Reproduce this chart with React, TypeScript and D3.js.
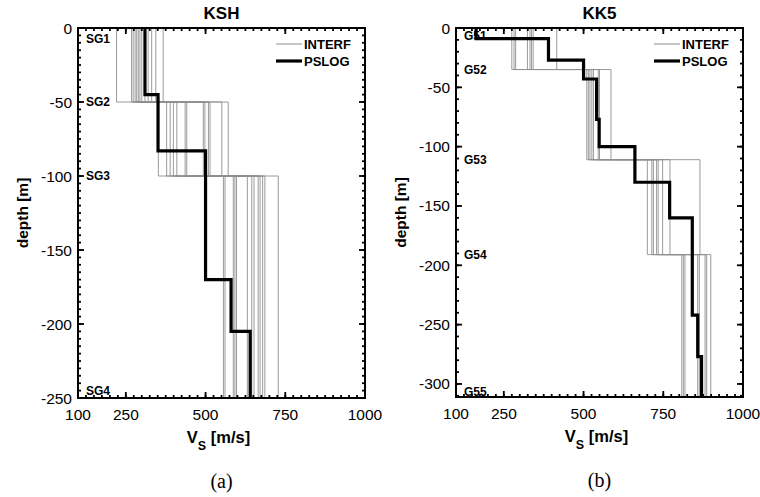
import React from "react";
import * as d3 from "d3";

// ---------- data ----------
const xTickLabels = [100, 250, 500, 750, 1000];

// KSH (a)
const kshLayerDepths = [0, -50, -100, -250];
const kshInterfL1 = [221, 268, 273, 279, 284, 289, 294, 300, 310, 320, 331, 344, 367];
const kshInterfL2 = [352, 378, 389, 399, 410, 436, 441, 493, 498, 509, 514, 551, 571];
const kshInterfL3 = [556, 561, 587, 592, 597, 631, 645, 652, 665, 671, 679, 686, 728];
const kshPslogDepths = [0, -45, -83, -170, -205, -250];
const kshPslogV = [310, 351, 500, 580, 640];
const kshLabels = ["SG1", "SG2", "SG3", "SG4"];
const kshLabelDepths = [-7.5, -50, -100, -245];
const kshYTicks = [0, -50, -100, -150, -200, -250];

// KK5 (b)
const kk5LayerDepths = [0, -35, -111, -191, -311];
const kk5InterfL1 = [275, 282, 287, 324, 332, 337, 342, 416];
const kk5InterfL2 = [510, 515, 520, 526, 531, 546, 550, 586];
const kk5InterfL3 = [700, 714, 719, 729, 734, 748, 771, 865];
const kk5InterfL4 = [808, 813, 818, 858, 863, 881, 886, 899];
const kk5PslogDepths = [0, -9, -27, -43, -77, -100, -130, -160, -242, -277, -311];
const kk5PslogV = [163, 390, 500, 541, 549, 661, 770, 841, 858, 870];
const kk5Labels = ["G51", "G52", "G53", "G54", "G55"];
const kk5LabelDepths = [-7, -35, -111, -191, -307];
const kk5YTicks = [0, -50, -100, -150, -200, -250, -300];

const SANS = "'Liberation Sans', Arial, Helvetica, sans-serif";
const SERIF = "'Liberation Serif', 'Times New Roman', serif";

function stepPoints(vs: number[], depths: number[]): [number, number][] {
  const pts: [number, number][] = [];
  vs.forEach((v, i) => {
    pts.push([v, depths[i]]);
    pts.push([v, depths[i + 1]]);
  });
  return pts;
}

type PanelProps = {
  left: number;
  right: number;
  top: number;
  bottom: number;
  yMin: number;
  title: string;
  layerDepths: number[];
  interf: number[][];
  pslogDepths: number[];
  pslogV: number[];
  labels: string[];
  labelDepths: number[];
  yTicks: number[];
  yMinorStep: number;
  caption: string;
};

function Panel(p: PanelProps) {
  const x = d3.scaleLinear().domain([100, 1000]).range([p.left, p.right]);
  const y = d3.scaleLinear().domain([p.yMin, 0]).range([p.bottom, p.top]);
  const line = d3
    .line<[number, number]>()
    .x((d) => x(d[0]))
    .y((d) => y(d[1]));

  const nProf = p.interf[0].length;
  const profiles = d3.range(nProf).map((i) =>
    stepPoints(
      p.interf.map((layer) => layer[i]),
      p.layerDepths
    )
  );

  const xMinor = d3.range(125, 1000, 25);
  const xMajor = [250, 500, 750];
  const yMinor = d3.range(0, p.yMin, -p.yMinorStep);
  const cx = (p.left + p.right) / 2;
  const majLen = 6;
  const minLen = 3;

  return (
    <g>
      {profiles.map((pts, i) => (
        <path key={"i" + i} d={line(pts) || ""} fill="none" stroke="#8e8e8e" strokeWidth={0.9} />
      ))}
      <path
        d={line(stepPoints(p.pslogV, p.pslogDepths)) || ""}
        fill="none"
        stroke="#000"
        strokeWidth={3.2}
        strokeLinejoin="miter"
      />
      <rect
        x={p.left}
        y={p.top}
        width={p.right - p.left}
        height={p.bottom - p.top}
        fill="none"
        stroke="#000"
        strokeWidth={2}
      />
      {xMinor.map((v) => (
        <g key={"xm" + v}>
          <line x1={x(v)} x2={x(v)} y1={p.bottom} y2={p.bottom - minLen} stroke="#000" strokeWidth={1.8} />
          <line x1={x(v)} x2={x(v)} y1={p.top} y2={p.top + minLen} stroke="#000" strokeWidth={1.8} />
        </g>
      ))}
      {xMajor.map((v) => (
        <g key={"xM" + v}>
          <line x1={x(v)} x2={x(v)} y1={p.bottom} y2={p.bottom - majLen} stroke="#000" strokeWidth={1.8} />
          <line x1={x(v)} x2={x(v)} y1={p.top} y2={p.top + majLen} stroke="#000" strokeWidth={1.8} />
        </g>
      ))}
      {yMinor.map((v) => (
        <g key={"ym" + v}>
          <line x1={p.left} x2={p.left + minLen} y1={y(v)} y2={y(v)} stroke="#000" strokeWidth={1.8} />
          <line x1={p.right} x2={p.right - minLen} y1={y(v)} y2={y(v)} stroke="#000" strokeWidth={1.8} />
        </g>
      ))}
      {p.yTicks.map((v) => (
        <g key={"yM" + v}>
          <line x1={p.left} x2={p.left + majLen} y1={y(v)} y2={y(v)} stroke="#000" strokeWidth={1.8} />
          <line x1={p.right} x2={p.right - majLen} y1={y(v)} y2={y(v)} stroke="#000" strokeWidth={1.8} />
        </g>
      ))}
      {xTickLabels.map((v) => (
        <text key={"xl" + v} x={x(v)} y={p.bottom + 22} fontSize={15.5} fontFamily={SANS} textAnchor="middle">
          {v}
        </text>
      ))}
      {p.yTicks.map((v) => (
        <text
          key={"yl" + v}
          x={p.left - 6}
          y={y(v)}
          fontSize={15.5}
          fontFamily={SANS}
          textAnchor="end"
          dominantBaseline="central"
        >
          {v}
        </text>
      ))}
      {p.labels.map((s, i) => (
        <text
          key={"ll" + s}
          x={p.left + 8}
          y={y(p.labelDepths[i])}
          fontSize={12}
          fontWeight="bold"
          fontFamily={SANS}
          dominantBaseline="central"
        >
          {s}
        </text>
      ))}
      <line x1={p.right - 89} x2={p.right - 63} y1={44} y2={44} stroke="#8e8e8e" strokeWidth={1} />
      <text x={p.right - 61} y={44} fontSize={13} fontWeight="bold" fontFamily={SANS} dominantBaseline="central">
        INTERF
      </text>
      <line x1={p.right - 89} x2={p.right - 63} y1={61} y2={61} stroke="#000" strokeWidth={3.2} />
      <text x={p.right - 61} y={61} fontSize={13} fontWeight="bold" fontFamily={SANS} dominantBaseline="central">
        PSLOG
      </text>
      <text x={cx} y={19} fontSize={17} fontWeight="bold" fontFamily={SANS} textAnchor="middle">
        {p.title}
      </text>
      <text
        transform={`translate(${p.left - 56},${(p.top + p.bottom) / 2}) rotate(-90)`}
        fontSize={15.5}
        fontWeight="bold"
        fontFamily={SANS}
        textAnchor="middle"
        dominantBaseline="central"
      >
        depth [m]
      </text>
      <text x={cx - 3} y={p.bottom + 45} fontSize={16.5} fontWeight="bold" fontFamily={SANS} textAnchor="middle">
        V
        <tspan fontSize={12.5} dy={7}>
          S
        </tspan>
        <tspan dy={-7}> [m/s]</tspan>
      </text>
      <text x={cx} y={p.bottom + 90} fontSize={20} fontFamily={SERIF} textAnchor="middle">
        {p.caption}
      </text>
    </g>
  );
}

export default function App() {
  return (
    <svg
      width={760}
      height={497}
      style={{ position: "absolute", left: 0, top: 0, background: "#fff" }}
    >
      <rect x={0} y={0} width={760} height={497} fill="#fff" />
      <Panel
        left={78}
        right={365}
        top={28}
        bottom={398}
        yMin={-250}
        title="KSH"
        layerDepths={kshLayerDepths}
        interf={[kshInterfL1, kshInterfL2, kshInterfL3]}
        pslogDepths={kshPslogDepths}
        pslogV={kshPslogV}
        labels={kshLabels}
        labelDepths={kshLabelDepths}
        yTicks={kshYTicks}
        yMinorStep={5}
        caption="(a)"
      />
      <Panel
        left={456}
        right={743}
        top={28}
        bottom={397}
        yMin={-311}
        title="KK5"
        layerDepths={kk5LayerDepths}
        interf={[kk5InterfL1, kk5InterfL2, kk5InterfL3, kk5InterfL4]}
        pslogDepths={kk5PslogDepths}
        pslogV={kk5PslogV}
        labels={kk5Labels}
        labelDepths={kk5LabelDepths}
        yTicks={kk5YTicks}
        yMinorStep={10}
        caption="(b)"
      />
    </svg>
  );
}
